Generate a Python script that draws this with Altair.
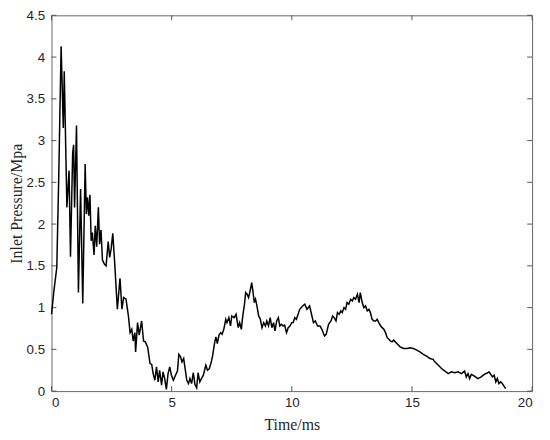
import altair as alt
import pandas as pd

time_ms = [0.00, 0.10, 0.22, 0.30, 0.40, 0.49, 0.53, 0.64, 0.73, 0.79, 0.88, 0.92, 0.96, 1.04, 1.12,
           1.21, 1.30, 1.40, 1.45, 1.50, 1.55, 1.60, 1.65, 1.70, 1.77, 1.82, 1.88, 1.95, 2.00, 2.06,
           2.12, 2.20, 2.27, 2.36, 2.42, 2.48, 2.55, 2.63, 2.74, 2.85, 2.93, 3.00, 3.10, 3.20, 3.27,
           3.34, 3.40, 3.47, 3.50, 3.58, 3.65, 3.75, 3.83, 3.90, 4.00, 4.10, 4.17, 4.23, 4.30, 4.37,
           4.44, 4.50, 4.58, 4.64, 4.71, 4.78, 4.85, 4.92, 4.99, 5.07, 5.16, 5.24, 5.30, 5.37, 5.43,
           5.50, 5.56, 5.63, 5.70, 5.76, 5.83, 5.90, 5.97, 6.04, 6.10, 6.17, 6.24, 6.32, 6.42, 6.49,
           6.57, 6.65, 6.71, 6.77, 6.84, 6.90, 6.97, 7.04, 7.10, 7.17, 7.25, 7.30, 7.38, 7.45, 7.50,
           7.60, 7.68, 7.77, 7.83, 7.90, 7.96, 8.03, 8.08, 8.14, 8.20, 8.28, 8.33, 8.38, 8.44, 8.49,
           8.55, 8.62, 8.69, 8.76, 8.83, 8.90, 8.96, 9.03, 9.10, 9.17, 9.24, 9.30, 9.37, 9.44, 9.50,
           9.57, 9.64, 9.70, 9.78, 9.85, 9.92, 10.00, 10.06, 10.12, 10.19, 10.33, 10.45, 10.54, 10.63,
           10.74, 10.82, 10.90, 10.98, 11.07, 11.17, 11.25, 11.36, 11.43, 11.53, 11.63, 11.70, 11.76,
           11.84, 11.90, 11.97, 12.04, 12.10, 12.17, 12.24, 12.30, 12.37, 12.45, 12.52, 12.58, 12.65,
           12.73, 12.80, 12.85, 12.93, 13.00, 13.07, 13.14, 13.21, 13.27, 13.34, 13.42, 13.49, 13.55,
           13.62, 13.70, 13.76, 13.83, 13.90, 13.97, 14.04, 14.10, 14.17, 14.24, 14.37, 14.51, 14.65,
           14.79, 14.92, 15.06, 15.20, 15.33, 15.47, 15.61, 15.75, 15.88, 15.95, 16.10, 16.23, 16.37,
           16.51, 16.64, 16.78, 16.92, 17.06, 17.19, 17.26, 17.33, 17.40, 17.47, 17.60, 17.74, 17.88,
           18.01, 18.15, 18.21, 18.28, 18.35, 18.42, 18.49, 18.55, 18.62, 18.69, 18.76, 18.83, 18.90]
pressure = [0.92, 1.20, 1.48, 2.55, 4.13, 3.15, 3.83, 2.20, 2.64, 1.61, 2.85, 2.95, 2.20, 3.18, 1.18,
            2.42, 1.05, 2.72, 2.12, 2.32, 2.10, 2.35, 1.80, 1.90, 1.63, 1.98, 1.73, 2.20, 1.76, 1.93,
            1.57, 1.52, 1.50, 1.79, 1.60, 1.70, 1.89, 1.53, 0.98, 1.35, 0.98, 1.12, 1.10, 0.90, 0.70,
            0.74, 0.60, 0.70, 0.47, 0.82, 0.67, 0.84, 0.60, 0.59, 0.53, 0.33, 0.32, 0.21, 0.13, 0.29,
            0.11, 0.25, 0.07, 0.23, 0.15, 0.02, 0.21, 0.29, 0.19, 0.13, 0.19, 0.24, 0.44, 0.41, 0.35,
            0.39, 0.27, 0.13, 0.09, 0.15, 0.09, 0.22, 0.08, 0.04, 0.22, 0.11, 0.15, 0.19, 0.31, 0.25,
            0.27, 0.35, 0.43, 0.55, 0.65, 0.57, 0.67, 0.70, 0.68, 0.74, 0.86, 0.82, 0.88, 0.78, 0.90,
            0.88, 0.92, 0.76, 0.82, 0.74, 0.90, 1.04, 1.18, 1.16, 1.12, 1.22, 1.30, 1.20, 1.06, 1.10,
            1.02, 0.90, 0.86, 0.76, 0.82, 0.78, 0.84, 0.78, 0.88, 0.76, 0.82, 0.72, 0.84, 0.88, 0.78,
            0.80, 0.78, 0.79, 0.70, 0.76, 0.78, 0.82, 0.82, 0.88, 0.86, 0.98, 1.02, 1.04, 0.98,
            1.02, 0.92, 0.82, 0.84, 0.78, 0.78, 0.74, 0.66, 0.68, 0.80, 0.84, 0.90, 0.88,
            0.84, 0.94, 0.92, 0.96, 0.94, 1.00, 0.98, 1.06, 1.04, 1.10, 1.08, 1.12, 1.10,
            1.16, 1.06, 1.18, 1.06, 1.00, 1.02, 0.96, 0.98, 0.94, 0.86, 0.84, 0.84, 0.86,
            0.82, 0.78, 0.76, 0.74, 0.70, 0.64, 0.62, 0.60, 0.59, 0.61, 0.57, 0.53, 0.51,
            0.51, 0.52, 0.51, 0.49, 0.47, 0.44, 0.42, 0.39, 0.38, 0.35, 0.31, 0.27, 0.24,
            0.21, 0.23, 0.22, 0.23, 0.21, 0.24, 0.17, 0.21, 0.15, 0.20, 0.18, 0.15, 0.17,
            0.20, 0.22, 0.23, 0.20, 0.17, 0.19, 0.11, 0.15, 0.09, 0.11, 0.09, 0.06, 0.03]

x_ticks = [0, 5, 10, 15, 20]
y_ticks = [0, 0.5, 1, 1.5, 2, 2.5, 3, 3.5, 4, 4.5]

W, H = 486, 380
X_MIN, X_MAX = 0, 20
Y_MIN, Y_MAX = 0, 4.5
TICK_PX = 5
dx = (X_MAX - X_MIN) * TICK_PX / W
dy = (Y_MAX - Y_MIN) * TICK_PX / H

df = pd.DataFrame({"t": time_ms, "p": pressure})

xs = alt.Scale(domain=[X_MIN, X_MAX], nice=False)
ys = alt.Scale(domain=[Y_MIN, Y_MAX], nice=False)

label_color = "#262626"

line = alt.Chart(df).mark_line(color="black", strokeWidth=1.5).encode(
    x=alt.X("t:Q", scale=xs, title="Time/ms",
            axis=alt.Axis(values=x_ticks, format="~g", ticks=False, domain=False, grid=False,
                          labelFont="Liberation Sans", labelFontSize=13.5, labelColor=label_color,
                          labelPadding=5, titleFont="Liberation Serif", titleFontSize=16,
                          titleFontWeight="normal", titleColor=label_color, titlePadding=7)),
    y=alt.Y("p:Q", scale=ys, title="Inlet Pressure/Mpa",
            axis=alt.Axis(values=y_ticks, format="~g", ticks=False, domain=False, grid=False,
                          labelFont="Liberation Sans", labelFontSize=13.5, labelColor=label_color,
                          labelPadding=7, titleFont="Liberation Serif", titleFontSize=16,
                          titleFontWeight="normal", titleColor=label_color, titlePadding=2)),
)

xt = pd.DataFrame({"v": x_ticks})
yt = pd.DataFrame({"v": y_ticks})
tick_color = "#555555"

bottom = alt.Chart(xt).transform_calculate(a=f"{Y_MIN}", b=f"{Y_MIN + dy}").mark_rule(
    color=tick_color, strokeWidth=1).encode(x=alt.X("v:Q", scale=xs), y=alt.Y("a:Q", scale=ys), y2="b:Q")
top = alt.Chart(xt).transform_calculate(a=f"{Y_MAX - dy}", b=f"{Y_MAX}").mark_rule(
    color=tick_color, strokeWidth=1).encode(x=alt.X("v:Q", scale=xs), y=alt.Y("a:Q", scale=ys), y2="b:Q")
left = alt.Chart(yt).transform_calculate(a=f"{X_MIN}", b=f"{X_MIN + dx}").mark_rule(
    color=tick_color, strokeWidth=1).encode(y=alt.Y("v:Q", scale=ys), x=alt.X("a:Q", scale=xs), x2="b:Q")
right = alt.Chart(yt).transform_calculate(a=f"{X_MAX - dx}", b=f"{X_MAX}").mark_rule(
    color=tick_color, strokeWidth=1).encode(y=alt.Y("v:Q", scale=ys), x=alt.X("a:Q", scale=xs), x2="b:Q")

chart = alt.layer(bottom, top, left, right, line).properties(
    width=W, height=H,
    autosize=alt.AutoSizeParams(type="none"),
    padding={"left": 44, "top": 5, "right": 10, "bottom": 44},
    background="white",
).configure_view(stroke="#666666", strokeWidth=1)

chart.save("out.html", embed_options={"renderer": "svg", "actions": False})
